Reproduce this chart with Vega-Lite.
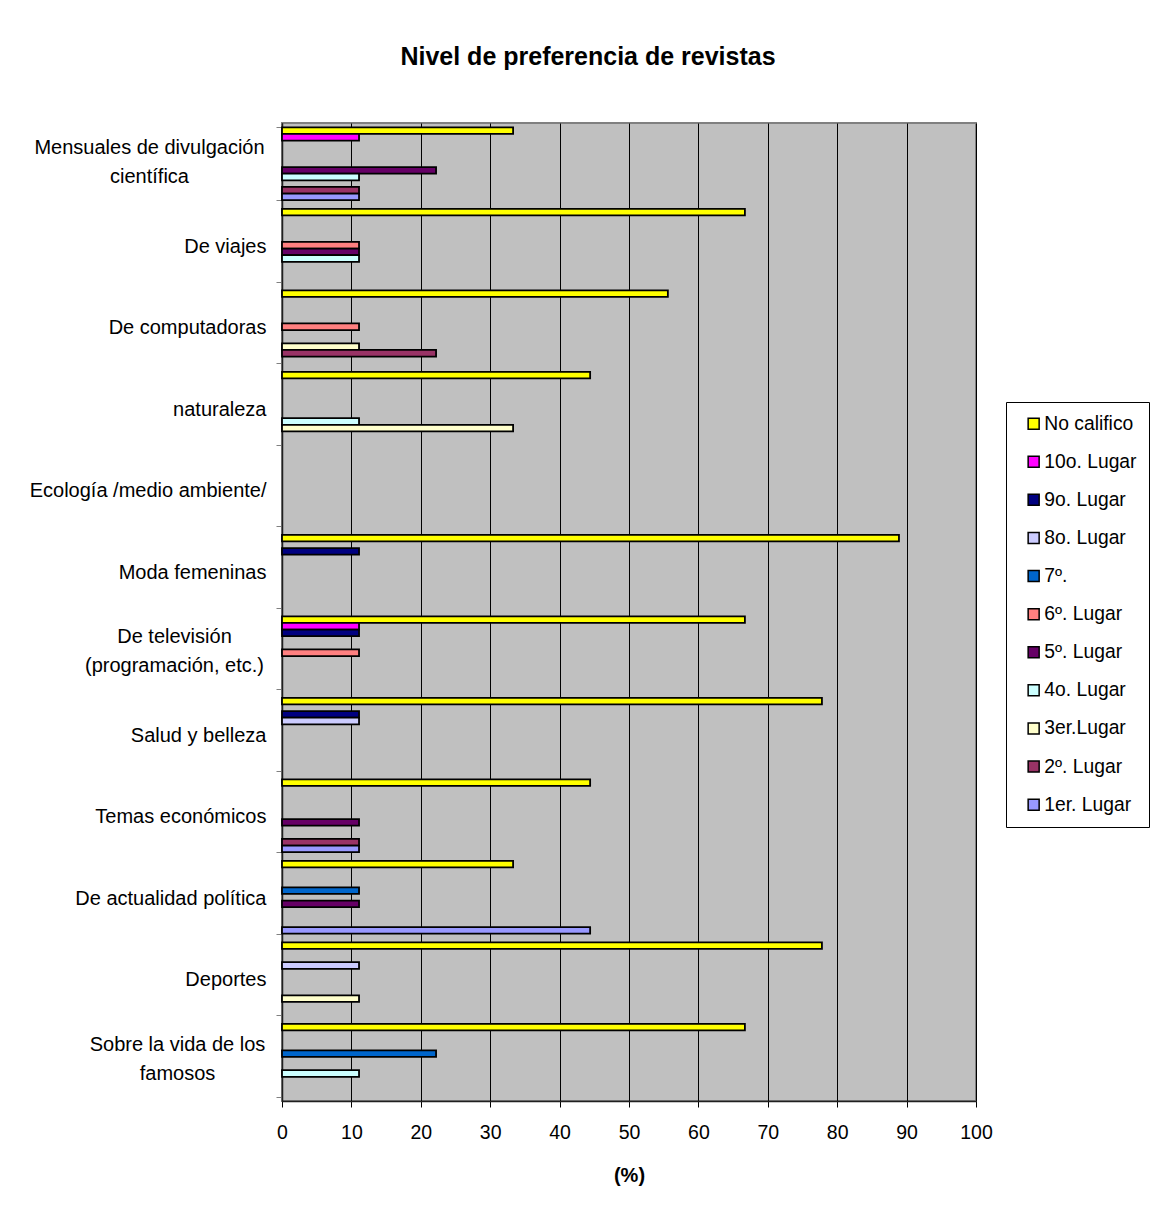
{
  "$schema": "https://vega.github.io/schema/vega-lite/v6.json",
  "width": 694,
  "height": 978,
  "autosize": {"type": "none"},
  "padding": {"left": 282, "top": 123, "right": 174, "bottom": 117},
  "background": "white",
  "title": {
    "text": "Nivel de preferencia de revistas",
    "fontSize": 25,
    "fontWeight": "bold",
    "font": "Liberation Sans",
    "color": "black",
    "anchor": "middle",
    "frame": "group",
    "baseline": "alphabetic",
    "offset": 23,
    "dx": -41
  },
  "config": {
    "font": "Liberation Sans",
    "view": {"fill": "#C0C0C0", "stroke": "#808080", "strokeWidth": 2}
  },
  "data": {
    "values": [
      {"revista": "Mensuales de divulgación científica", "serie": "No califico", "pct": 33.3},
      {"revista": "Mensuales de divulgación científica", "serie": "10o. Lugar", "pct": 11.1},
      {"revista": "Mensuales de divulgación científica", "serie": "5º. Lugar", "pct": 22.2},
      {"revista": "Mensuales de divulgación científica", "serie": "4o. Lugar", "pct": 11.1},
      {"revista": "Mensuales de divulgación científica", "serie": "2º. Lugar", "pct": 11.1},
      {"revista": "Mensuales de divulgación científica", "serie": "1er. Lugar", "pct": 11.1},
      {"revista": "De viajes", "serie": "No califico", "pct": 66.7},
      {"revista": "De viajes", "serie": "6º. Lugar", "pct": 11.1},
      {"revista": "De viajes", "serie": "5º. Lugar", "pct": 11.1},
      {"revista": "De viajes", "serie": "4o. Lugar", "pct": 11.1},
      {"revista": "De computadoras", "serie": "No califico", "pct": 55.6},
      {"revista": "De computadoras", "serie": "6º. Lugar", "pct": 11.1},
      {"revista": "De computadoras", "serie": "3er.Lugar", "pct": 11.1},
      {"revista": "De computadoras", "serie": "2º. Lugar", "pct": 22.2},
      {"revista": "naturaleza", "serie": "No califico", "pct": 44.4},
      {"revista": "naturaleza", "serie": "4o. Lugar", "pct": 11.1},
      {"revista": "naturaleza", "serie": "3er.Lugar", "pct": 33.3},
      {"revista": "Moda femeninas", "serie": "No califico", "pct": 88.9},
      {"revista": "Moda femeninas", "serie": "9o. Lugar", "pct": 11.1},
      {"revista": "De televisión (programación, etc.)", "serie": "No califico", "pct": 66.7},
      {"revista": "De televisión (programación, etc.)", "serie": "10o. Lugar", "pct": 11.1},
      {"revista": "De televisión (programación, etc.)", "serie": "9o. Lugar", "pct": 11.1},
      {"revista": "De televisión (programación, etc.)", "serie": "6º. Lugar", "pct": 11.1},
      {"revista": "Salud y belleza", "serie": "No califico", "pct": 77.8},
      {"revista": "Salud y belleza", "serie": "9o. Lugar", "pct": 11.1},
      {"revista": "Salud y belleza", "serie": "8o. Lugar", "pct": 11.1},
      {"revista": "Temas económicos", "serie": "No califico", "pct": 44.4},
      {"revista": "Temas económicos", "serie": "5º. Lugar", "pct": 11.1},
      {"revista": "Temas económicos", "serie": "2º. Lugar", "pct": 11.1},
      {"revista": "Temas económicos", "serie": "1er. Lugar", "pct": 11.1},
      {"revista": "De actualidad política", "serie": "No califico", "pct": 33.3},
      {"revista": "De actualidad política", "serie": "7º.", "pct": 11.1},
      {"revista": "De actualidad política", "serie": "5º. Lugar", "pct": 11.1},
      {"revista": "De actualidad política", "serie": "1er. Lugar", "pct": 44.4},
      {"revista": "Deportes", "serie": "No califico", "pct": 77.8},
      {"revista": "Deportes", "serie": "8o. Lugar", "pct": 11.1},
      {"revista": "Deportes", "serie": "3er.Lugar", "pct": 11.1},
      {"revista": "Sobre la vida de los famosos", "serie": "No califico", "pct": 66.7},
      {"revista": "Sobre la vida de los famosos", "serie": "7º.", "pct": 22.2},
      {"revista": "Sobre la vida de los famosos", "serie": "4o. Lugar", "pct": 11.1}
    ]
  },
  "mark": {"type": "bar", "stroke": "black", "strokeWidth": 1.8},
  "encoding": {
    "y": {
      "field": "revista",
      "type": "nominal",
      "scale": {
        "domain": [
          "Mensuales de divulgación científica",
          "De viajes",
          "De computadoras",
          "naturaleza",
          "Ecología /medio ambiente/",
          "Moda femeninas",
          "De televisión (programación, etc.)",
          "Salud y belleza",
          "Temas económicos",
          "De actualidad política",
          "Deportes",
          "Sobre la vida de los famosos"
        ],
        "paddingInner": 0.105,
        "paddingOuter": 0.0525
      },
      "axis": {
        "title": null,
        "tickBand": "extent",
        "tickColor": "#808080",
        "tickSize": 6,
        "domainColor": "#202020",
        "domainWidth": 1.5,
        "labelFont": "Liberation Sans",
        "labelFontSize": 20,
        "labelColor": "black",
        "labelLimit": 400,
        "labelLineHeight": 29,
        "labelExpr": "datum.value == 'Mensuales de divulgación científica' ? ['Mensuales de divulgación', 'científica'] : datum.value == 'De televisión (programación, etc.)' ? ['De televisión', '(programación, etc.)'] : datum.value == 'Sobre la vida de los famosos' ? ['Sobre la vida de los', 'famosos'] : datum.value",
        "labelAlign": {
          "condition": {"test": "datum.value == 'Mensuales de divulgación científica' || datum.value == 'De televisión (programación, etc.)' || datum.value == 'Sobre la vida de los famosos'", "value": "center"},
          "value": "right"
        },
        "labelPadding": {
          "condition": [
            {"test": "datum.value == 'Mensuales de divulgación científica'", "value": 127},
            {"test": "datum.value == 'De televisión (programación, etc.)'", "value": 102},
            {"test": "datum.value == 'Sobre la vida de los famosos'", "value": 99}
          ],
          "value": 10
        },
        "labelOffset": {
          "condition": {"test": "datum.value == 'Mensuales de divulgación científica' || datum.value == 'De televisión (programación, etc.)' || datum.value == 'Sobre la vida de los famosos'", "value": -16},
          "value": 1
        }
      }
    },
    "yOffset": {
      "field": "serie",
      "type": "nominal",
      "scale": {
        "domain": ["No califico", "10o. Lugar", "9o. Lugar", "8o. Lugar", "7º.", "6º. Lugar", "5º. Lugar", "4o. Lugar", "3er.Lugar", "2º. Lugar", "1er. Lugar"],
        "paddingInner": 0,
        "paddingOuter": 0
      }
    },
    "x": {
      "field": "pct",
      "type": "quantitative",
      "scale": {"domain": [0, 100], "nice": false, "zero": true},
      "axis": {
        "title": "(%)",
        "titleFont": "Liberation Sans",
        "titleFontSize": 20,
        "titleFontWeight": "bold",
        "titleColor": "black",
        "titlePadding": 24,
        "values": [0, 10, 20, 30, 40, 50, 60, 70, 80, 90, 100],
        "grid": true,
        "gridColor": "black",
        "gridWidth": 1,
        "gridOpacity": 1,
        "domainColor": "#202020",
        "domainWidth": 1.5,
        "tickColor": "black",
        "tickSize": 6,
        "labelFont": "Liberation Sans",
        "labelFontSize": 19.5,
        "labelColor": "black",
        "labelPadding": 16,
        "labelFlush": false
      }
    },
    "color": {
      "field": "serie",
      "type": "nominal",
      "scale": {
        "domain": ["No califico", "10o. Lugar", "9o. Lugar", "8o. Lugar", "7º.", "6º. Lugar", "5º. Lugar", "4o. Lugar", "3er.Lugar", "2º. Lugar", "1er. Lugar"],
        "range": ["#FFFF00", "#FF00FF", "#000080", "#CCCCFF", "#0066CC", "#FF8080", "#660066", "#CCFFFF", "#FFFFCC", "#993366", "#9999FF"]
      },
      "legend": {
        "title": null,
        "orient": "none",
        "legendX": 724,
        "legendY": 279,
        "direction": "vertical",
        "symbolType": "square",
        "symbolSize": 121,
        "symbolStrokeColor": "black",
        "symbolStrokeWidth": 1.5,
        "symbolOpacity": 1,
        "symbolOffset": 6,
        "labelFont": "Liberation Sans",
        "labelFontSize": 19.3,
        "labelColor": "black",
        "labelOffset": 1,
        "labelLimit": 300,
        "rowPadding": 18.1,
        "padding": 12,
        "strokeColor": "black",
        "fillColor": "white"
      }
    }
  }
}
